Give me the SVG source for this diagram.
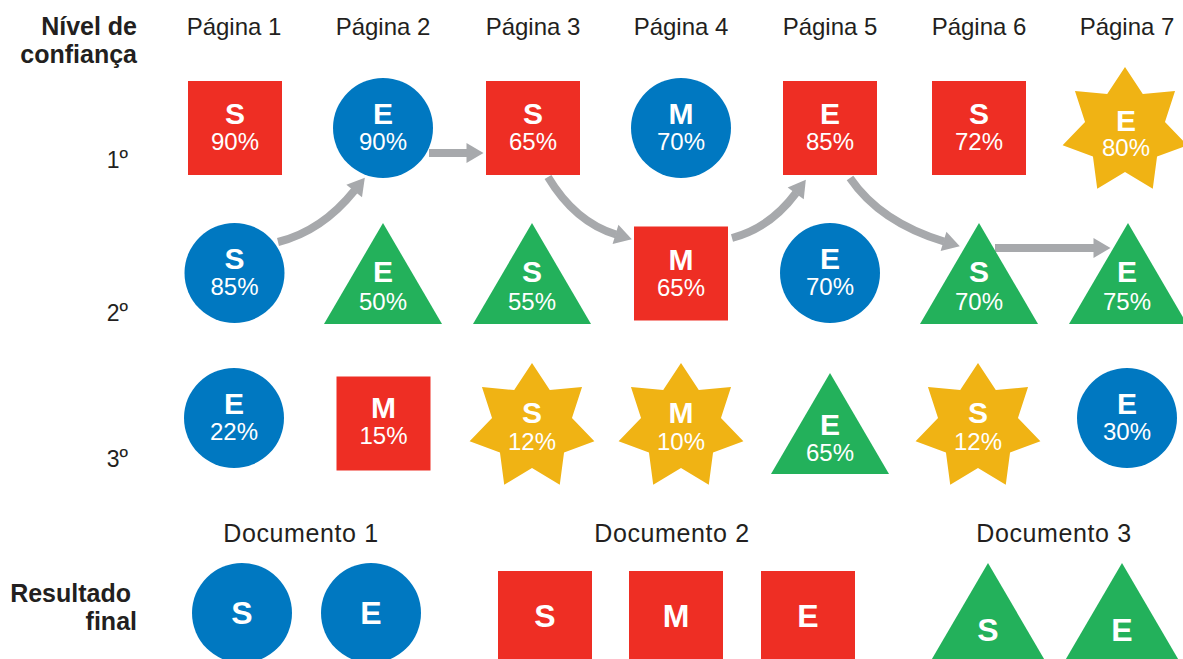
<svg xmlns="http://www.w3.org/2000/svg" xmlns:xlink="http://www.w3.org/1999/xlink" width="1183" height="659" viewBox="0 0 1183 659">
  <style>
    .hdr { font-family: "Liberation Sans", Arial, sans-serif; font-size: 24px; fill: #231F20; text-anchor: middle; }
    .doc { font-family: "Liberation Sans", Arial, sans-serif; font-size: 25px; letter-spacing: 0.6px; fill: #231F20; text-anchor: middle; }
    .lbl { font-family: "Liberation Sans", Arial, sans-serif; font-size: 25px; font-weight: bold; fill: #231F20; text-anchor: end; }
    .rank { font-family: "Liberation Sans", Arial, sans-serif; font-size: 23px; fill: #231F20; text-anchor: end; }
    .ltr { font-family: "Liberation Sans", Arial, sans-serif; font-size: 30px; font-weight: bold; fill: #FFFFFF; text-anchor: middle; }
    .big { font-family: "Liberation Sans", Arial, sans-serif; font-size: 32px; font-weight: bold; fill: #FFFFFF; text-anchor: middle; }
    .pct { font-family: "Liberation Sans", Arial, sans-serif; font-size: 24px; fill: #FFFFFF; text-anchor: middle; }
    .red { fill: #EE2E24; }
    .blue { fill: #0078C1; }
    .green { fill: #23B15B; }
    .yellow { fill: #F0B314; }
    .flow { fill: none; stroke: #A7A9AC; stroke-width: 8; marker-end: url(#head); }
  </style>
  <defs>
    <marker id="head" markerUnits="userSpaceOnUse" markerWidth="20" markerHeight="20" refX="0.5" refY="10" orient="auto" overflow="visible">
      <path d="M0,0 L17,10 L0,20 Z" fill="#A7A9AC"/>
    </marker>
    <!-- seven-pointed star centred on the origin -->
    <polygon id="star" points="0,-64 17.79,-36.94 50.04,-39.9 39.97,-9.12 62.39,14.24 32.05,25.56 27.77,57.66 0,41 -27.77,57.66 -32.05,25.56 -62.39,14.24 -39.97,-9.12 -50.04,-39.9 -17.79,-36.94"/>
    <!-- triangle with its apex on the origin -->
    <polygon id="tri" points="0,0 59,101 -59,101"/>
    <rect id="sq" x="-47" y="-47" width="94" height="94"/>
  </defs>

  <!-- column headers -->
  <g id="headers">
    <text class="hdr" x="234" y="35">Página 1</text>
    <text class="hdr" x="383" y="35">Página 2</text>
    <text class="hdr" x="533" y="35">Página 3</text>
    <text class="hdr" x="681" y="35">Página 4</text>
    <text class="hdr" x="830" y="35">Página 5</text>
    <text class="hdr" x="979" y="35">Página 6</text>
    <text class="hdr" x="1127" y="35">Página 7</text>
  </g>

  <!-- row labels -->
  <g id="labels">
    <text class="lbl" x="137" y="35">Nível de</text>
    <text class="lbl" x="137" y="63">confiança</text>
    <text class="rank" x="128" y="168">1<tspan dy="-3">º</tspan></text>
    <text class="rank" x="128" y="321">2<tspan dy="-3">º</tspan></text>
    <text class="rank" x="128" y="467">3<tspan dy="-3">º</tspan></text>
    <text class="lbl" x="131" y="602">Resultado</text>
    <text class="lbl" x="137" y="630">final</text>
  </g>

  <!-- connectors -->
  <g id="connectors">
    <path class="flow" d="M278,242 Q322,231 354.5,190.5"/>
    <path class="flow" d="M429,153 L467,153"/>
    <path class="flow" d="M548,177 Q575,222 616,234.5"/>
    <path class="flow" d="M732,238 Q770,228 796,193"/>
    <path class="flow" d="M850,178 Q880,222 944,241.5"/>
    <path class="flow" d="M995,248 L1094,248"/>
  </g>

  <!-- 1st confidence level -->
  <g id="p1-r1"><use href="#sq" x="235" y="128" class="red"/><text class="ltr" x="235" y="124">S</text><text class="pct" x="235" y="150">90%</text></g>
  <g id="p2-r1"><circle cx="383" cy="128" r="50" class="blue"/><text class="ltr" x="383" y="124">E</text><text class="pct" x="383" y="150">90%</text></g>
  <g id="p3-r1"><use href="#sq" x="533" y="128" class="red"/><text class="ltr" x="533" y="124">S</text><text class="pct" x="533" y="150">65%</text></g>
  <g id="p4-r1"><circle cx="681" cy="128" r="50" class="blue"/><text class="ltr" x="681" y="124">M</text><text class="pct" x="681" y="150">70%</text></g>
  <g id="p5-r1"><use href="#sq" x="830" y="128" class="red"/><text class="ltr" x="830" y="124">E</text><text class="pct" x="830" y="150">85%</text></g>
  <g id="p6-r1"><use href="#sq" x="979" y="128" class="red"/><text class="ltr" x="979" y="124">S</text><text class="pct" x="979" y="150">72%</text></g>
  <g id="p7-r1"><use href="#star" x="1125" y="131" class="yellow"/><text class="ltr" x="1126" y="131">E</text><text class="pct" x="1126" y="156">80%</text></g>

  <!-- 2nd confidence level -->
  <g id="p1-r2"><circle cx="234.5" cy="273" r="50" class="blue"/><text class="ltr" x="234.5" y="269">S</text><text class="pct" x="234.5" y="295">85%</text></g>
  <g id="p2-r2"><use href="#tri" x="383" y="223" class="green"/><text class="ltr" x="383" y="282">E</text><text class="pct" x="383" y="310">50%</text></g>
  <g id="p3-r2"><use href="#tri" x="532" y="223" class="green"/><text class="ltr" x="532" y="282">S</text><text class="pct" x="532" y="310">55%</text></g>
  <g id="p4-r2"><use href="#sq" x="681" y="273.5" class="red"/><text class="ltr" x="681" y="269.5">M</text><text class="pct" x="681" y="295.5">65%</text></g>
  <g id="p5-r2"><circle cx="830" cy="273" r="50" class="blue"/><text class="ltr" x="830" y="269">E</text><text class="pct" x="830" y="295">70%</text></g>
  <g id="p6-r2"><use href="#tri" x="979" y="223" class="green"/><text class="ltr" x="979" y="282">S</text><text class="pct" x="979" y="310">70%</text></g>
  <g id="p7-r2"><use href="#tri" x="1128" y="223" class="green"/><text class="ltr" x="1127" y="282">E</text><text class="pct" x="1127" y="310">75%</text></g>

  <!-- 3rd confidence level -->
  <g id="p1-r3"><circle cx="234" cy="418" r="50" class="blue"/><text class="ltr" x="234" y="414">E</text><text class="pct" x="234" y="440">22%</text></g>
  <g id="p2-r3"><use href="#sq" x="383.5" y="423.5" class="red"/><text class="ltr" x="383.5" y="418">M</text><text class="pct" x="383.5" y="444">15%</text></g>
  <g id="p3-r3"><use href="#star" x="532" y="427" class="yellow"/><text class="ltr" x="532" y="423">S</text><text class="pct" x="532" y="450">12%</text></g>
  <g id="p4-r3"><use href="#star" x="681" y="427" class="yellow"/><text class="ltr" x="681" y="423">M</text><text class="pct" x="681" y="450">10%</text></g>
  <g id="p5-r3"><use href="#tri" x="830" y="373" class="green"/><text class="ltr" x="830" y="435">E</text><text class="pct" x="830" y="461">65%</text></g>
  <g id="p6-r3"><use href="#star" x="978" y="427" class="yellow"/><text class="ltr" x="978" y="423">S</text><text class="pct" x="978" y="450">12%</text></g>
  <g id="p7-r3"><circle cx="1127" cy="418" r="50" class="blue"/><text class="ltr" x="1127" y="414">E</text><text class="pct" x="1127" y="440">30%</text></g>

  <!-- final result per document -->
  <g id="doc-titles">
    <text class="doc" x="301" y="542">Documento 1</text>
    <text class="doc" x="672" y="542">Documento 2</text>
    <text class="doc" x="1054" y="542">Documento 3</text>
  </g>
  <g id="d1-s"><circle cx="242" cy="613" r="50" class="blue"/><text class="big" x="242" y="624">S</text></g>
  <g id="d1-e"><circle cx="371" cy="613" r="50" class="blue"/><text class="big" x="371" y="624">E</text></g>
  <g id="d2-s"><use href="#sq" x="545" y="618" class="red"/><text class="big" x="545" y="627">S</text></g>
  <g id="d2-m"><use href="#sq" x="676" y="618" class="red"/><text class="big" x="676" y="627">M</text></g>
  <g id="d2-e"><use href="#sq" x="808" y="618" class="red"/><text class="big" x="808" y="627">E</text></g>
  <g id="d3-s"><use href="#tri" x="988" y="563" class="green"/><text class="big" x="988" y="641">S</text></g>
  <g id="d3-e"><use href="#tri" x="1122" y="563" class="green"/><text class="big" x="1122" y="641">E</text></g>
</svg>
